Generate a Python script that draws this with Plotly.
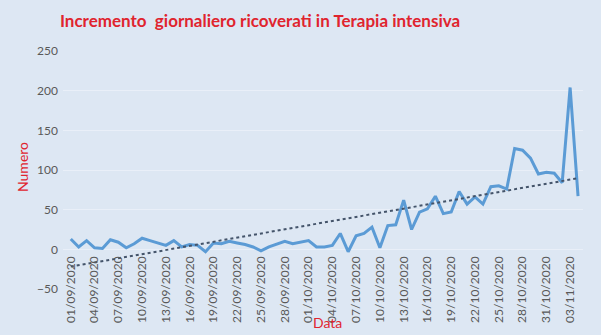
import numpy as np
import pandas as pd
import plotly.graph_objects as go

# Daily increase of ICU admissions, 01/09/2020 - 04/11/2020
start_date = "2020-09-01"
incremento = [
    13, 3, 11, 2, 1, 12, 9, 2, 7, 14,
    11, 8, 5, 11, 3, 6, 5, -3, 8, 7,
    10, 8, 6, 3, -2, 3, 7, 10, 7, 9,
    11, 3, 3, 5, 20, -3, 17, 20, 28, 2,
    30, 31, 62, 25, 47, 51, 67, 45, 47, 73,
    57, 66, 57, 79, 80, 76, 127, 125, 115, 95,
    97, 96, 84, 204, 67,
]
y_ticks = [-50, 0, 50, 100, 150, 200, 250]

date_index = pd.date_range(start_date, periods=len(incremento), freq="D")
days = np.arange(len(incremento))

# Linear trend (least squares), as a spreadsheet trendline
slope, intercept = np.polyfit(days, incremento, 1)
trend = slope * days + intercept

BG = "#DDE7F3"
GRID = "#E9EFF8"
RED = "#E0242E"
GREY = "#595959"

fig = go.Figure()
fig.add_trace(go.Scatter(
    x=date_index, y=incremento, mode="lines",
    line=dict(color="#5B9BD5", width=3),
    name="Incremento",
))
fig.add_trace(go.Scatter(
    x=date_index, y=trend, mode="lines",
    line=dict(color="#44546A", width=2, dash="dot"),
    name="Tendenza",
))

fig.update_layout(
    width=601, height=335,
    margin=dict(l=63, r=18, t=51, b=46),
    paper_bgcolor=BG, plot_bgcolor=BG,
    showlegend=False,
    font=dict(family="Lato, 'Open Sans', sans-serif", color=GREY, size=12),
    title=dict(
        text="Incremento\u00a0 giornaliero ricoverati in Terapia intensiva",
        font=dict(family="Lato, sans-serif", size=17, color=RED, weight="bold"),
        x=260 / 601, xanchor="center", xref="container",
        y=1 - 21 / 335, yanchor="middle", yref="container",
    ),
    xaxis=dict(
        type="date",
        range=[pd.Timestamp("2020-08-31 00:30"), pd.Timestamp("2020-11-04 15:00")],
        tick0=start_date, dtick=3 * 86400000,
        tickformat="%d/%m/%Y", tickangle=-90,
        showgrid=False, zeroline=False, showline=False,
        anchor="free", position=(289 - 249) / 238,
        ticklabelstandoff=4,
        tickfont=dict(size=12, color=GREY),
    ),
    yaxis=dict(
        range=[-50, 250], tickvals=y_ticks,
        showgrid=True, gridcolor=GRID, gridwidth=1,
        zeroline=False, showline=False,
        tickfont=dict(size=12, color=GREY),
        ticklabelstandoff=4,
    ),
    annotations=[
        dict(text="Numero", textangle=-90, showarrow=False,
             xref="paper", yref="paper",
             x=(22 - 63) / 520, y=(289 - 167) / 238,
             xanchor="center", yanchor="middle",
             font=dict(size=14, color=RED, family="Lato, sans-serif")),
        dict(text="Data", showarrow=False,
             xref="paper", yref="paper",
             x=(327 - 63) / 520, y=(289 - 322) / 238,
             xanchor="center", yanchor="middle",
             font=dict(size=14, color=RED, family="Lato, sans-serif")),
    ],
)

fig.write_html("out.html")
